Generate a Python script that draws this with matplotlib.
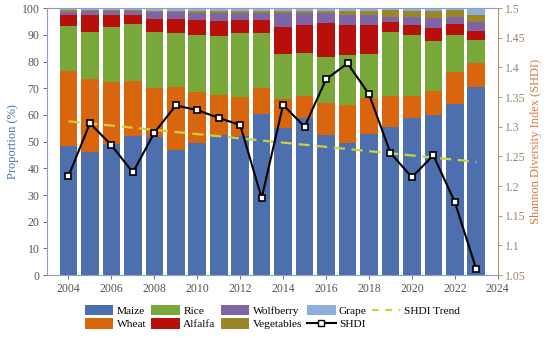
import numpy as np
import matplotlib
matplotlib.use("Agg")
import matplotlib.pyplot as plt
from matplotlib.lines import Line2D
from matplotlib.patches import Patch

plt.rcParams['font.family'] = ['Liberation Serif', 'DejaVu Serif']

years = list(range(2004, 2024))
maize = [48.5, 46.0, 49.0, 52.2, 51.8, 46.8, 49.5, 52.4, 52.2, 60.5,
         55.0, 58.8, 52.4, 49.5, 52.8, 55.3, 58.7, 59.9, 64.0, 70.3]
wheat = [28.0, 27.4, 23.5, 20.6, 18.4, 23.5, 19.2, 15.0, 14.6, 9.5,
         11.0, 8.2, 11.9, 14.3, 13.4, 11.7, 8.3, 9.1, 12.1, 9.0]
rice = [16.8, 17.8, 20.5, 21.2, 21.0, 20.2, 21.2, 22.1, 23.7, 20.6,
        17.0, 16.1, 17.3, 18.6, 16.5, 24.0, 22.9, 18.8, 13.8, 8.7]
alfalfa = [4.2, 6.2, 4.4, 3.4, 4.9, 5.6, 5.6, 5.7, 5.0, 4.9,
           9.9, 10.5, 12.7, 11.2, 11.1, 3.9, 3.7, 4.7, 4.1, 3.5]
wolfberry = [1.2, 1.6, 1.6, 1.6, 2.4, 2.4, 2.8, 3.0, 2.8, 2.8,
             5.2, 4.5, 3.8, 4.0, 3.6, 1.9, 3.0, 3.8, 2.8, 3.4]
vegetables = [0.6, 0.4, 0.4, 0.4, 0.6, 0.6, 0.8, 0.8, 0.8, 0.8,
              1.0, 1.0, 1.0, 1.4, 1.6, 2.5, 2.5, 2.8, 2.4, 2.5]
grape = [0.7, 0.6, 0.6, 0.6, 0.9, 0.9, 0.9, 1.0, 0.9, 0.9,
         0.9, 0.9, 0.9, 1.0, 1.0, 0.7, 0.9, 0.9, 0.8, 2.6]
shdi = [1.217, 1.306, 1.269, 1.223, 1.290, 1.336, 1.328, 1.315, 1.303, 1.180,
        1.337, 1.300, 1.380, 1.407, 1.355, 1.256, 1.215, 1.252, 1.173, 1.060]

crop_names = ['Maize', 'Wheat', 'Rice', 'Alfalfa', 'Wolfberry', 'Vegetables', 'Grape']
crop_vals = [maize, wheat, rice, alfalfa, wolfberry, vegetables, grape]
crop_colors = ['#4E6FAD', '#D9650F', '#79A83A', '#B80F0A', '#8064A8', '#9A8626', '#8EAEDD']

fig = plt.figure(figsize=(5.5, 3.38), dpi=100)
ax = fig.add_axes([0.0855, 0.186, 0.8195, 0.790])

x = np.array(years)
bottom = np.zeros(len(years))
handles = []
for name, vals, col in zip(crop_names, crop_vals, crop_colors):
    v = np.array(vals)
    ax.bar(x, v, width=0.82, bottom=bottom, color=col, label=name, zorder=2)
    bottom += v
    handles.append(Patch(facecolor=col, label=name))

ax.set_xlim(2003, 2024)
ax.set_ylim(0, 100)
ax.set_xticks(range(2004, 2025, 2))
ax.set_yticks(range(0, 101, 10))
ax.tick_params(axis='both', labelsize=8.5, colors='#555555', length=3, width=0.6, pad=2.5)
ax.set_ylabel('Proportion (%)', color='#4A72B8', fontsize=9, labelpad=2)
for s in ['left', 'bottom', 'top']:
    ax.spines[s].set_color('#8E9CC8')
    ax.spines[s].set_linewidth(0.8)
ax.spines['right'].set_visible(False)

ax2 = ax.twinx()
ax2.set_ylim(1.05, 1.5)
ax2.set_yticks(np.arange(1.05, 1.501, 0.05))
ax2.set_yticklabels(['1.05', '1.1', '1.15', '1.2', '1.25', '1.3', '1.35', '1.4', '1.45', '1.5'])
ax2.tick_params(axis='y', labelsize=8.5, colors='#9C8566', length=3, width=0.6, pad=2.5)
ax2.spines['right'].set_color('#B8926A')
ax2.spines['right'].set_linewidth(0.8)
for s in ['left', 'bottom', 'top']:
    ax2.spines[s].set_visible(False)
ax2.set_ylabel('Shannon Diversity Index (SHDI)', color='#D67A40', fontsize=9, labelpad=3)

coef = np.polyfit(x, np.array(shdi), 1)
trend = np.polyval(coef, x)
ax2.plot(x, trend, color='#CCD23A', linestyle=(0, (5, 3)), linewidth=1.6, zorder=3)
ax2.plot(x, shdi, color='black', linewidth=1.5, marker='s', markersize=4,
         markerfacecolor='white', markeredgecolor='black', markeredgewidth=1.2, zorder=4)

handles.append(Line2D([], [], color='black', linewidth=1.5, marker='s', markersize=4,
                      markerfacecolor='white', markeredgecolor='black', label='SHDI'))
handles.append(Line2D([], [], color='#CCD23A', linestyle=(0, (3, 3)), linewidth=1.6,
                      label='SHDI Trend'))
fig.legend(handles=handles, loc='lower center', bbox_to_anchor=(0.495, 0.0), ncol=5,
           frameon=False, fontsize=8.2, handlelength=2.5, handleheight=1.0,
           columnspacing=0.45, handletextpad=0.3, labelspacing=0.2, borderpad=0.25)

fig.savefig('out.png', dpi=100)
